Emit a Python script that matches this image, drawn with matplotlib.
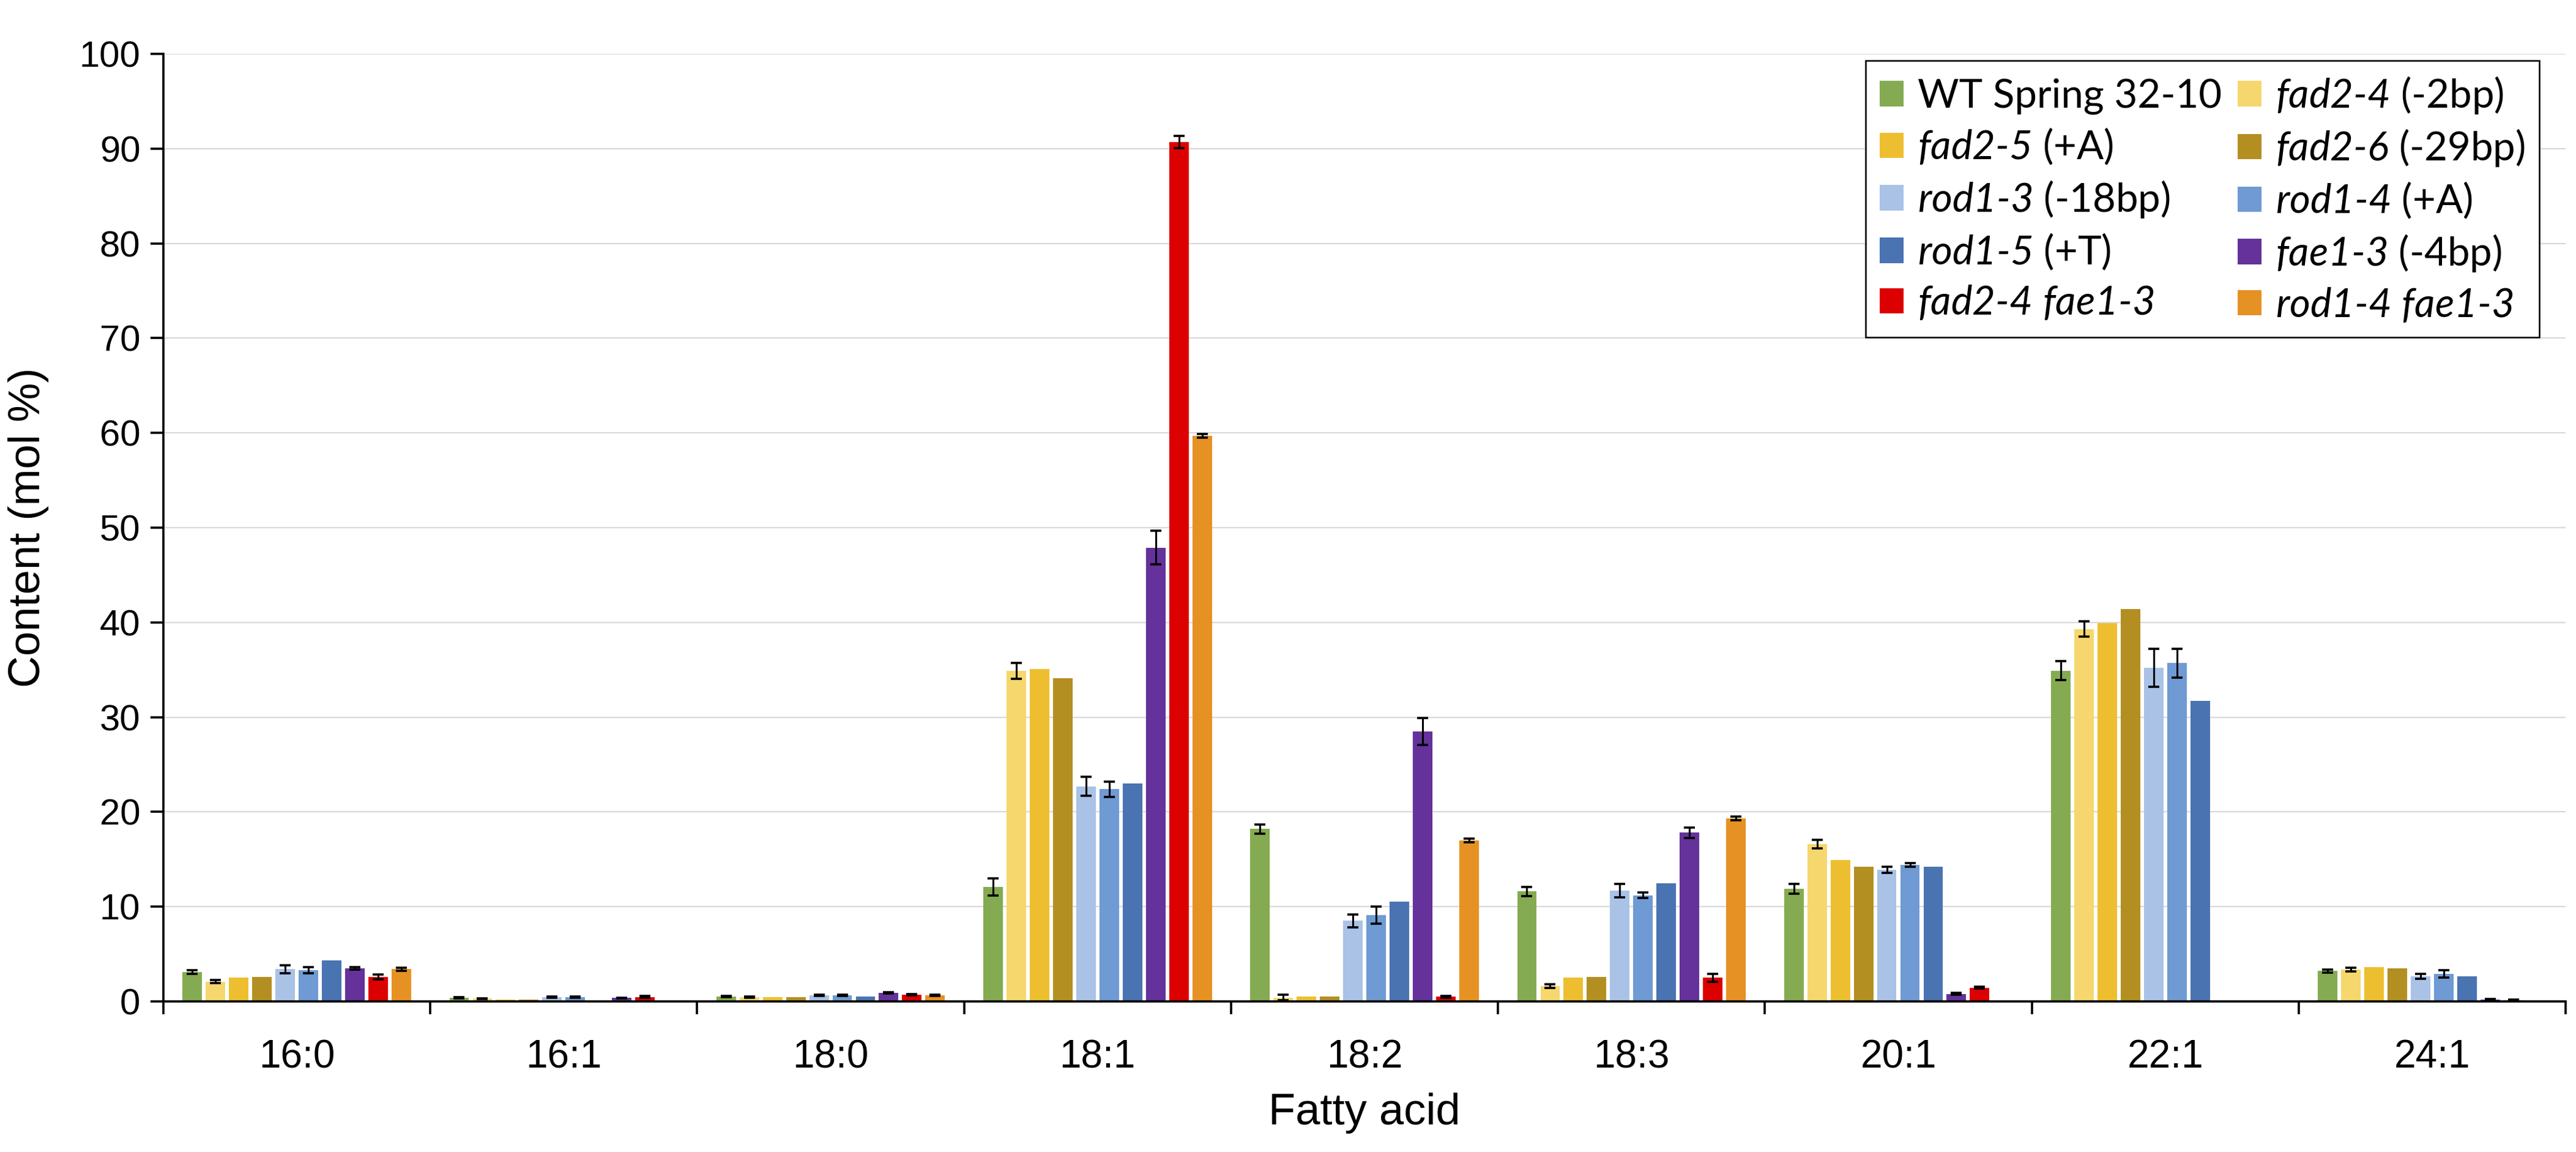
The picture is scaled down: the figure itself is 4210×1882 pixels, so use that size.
import numpy as np
import matplotlib
matplotlib.use("Agg")
import matplotlib.pyplot as plt

plt.rcParams['font.family'] = ['Liberation Sans', 'DejaVu Sans']
# mathtext is only used for the italic gene names, so both map to italic
plt.rcParams['mathtext.fontset'] = 'custom'
plt.rcParams['mathtext.rm'] = 'Lato:italic'
plt.rcParams['mathtext.it'] = 'Lato:italic'

fatty_acids = ["16:0", "16:1", "18:0", "18:1", "18:2", "18:3", "20:1", "22:1", "24:1"]

# mean content (mol %) per line, one value per fatty acid
wt = [3.1, 0.4, 0.52, 12.1, 18.2, 11.6, 11.9, 34.9, 3.2]
fad2_4 = [2.1, 0.3, 0.47, 34.9, 0.4, 1.6, 16.6, 39.3, 3.35]
fad2_5 = [2.5, 0.18, 0.45, 35.1, 0.5, 2.5, 14.9, 39.9, 3.65]
fad2_6 = [2.6, 0.18, 0.45, 34.1, 0.55, 2.6, 14.2, 41.4, 3.5]
rod1_3 = [3.4, 0.47, 0.63, 22.7, 8.5, 11.7, 13.9, 35.2, 2.65]
rod1_4 = [3.3, 0.47, 0.63, 22.4, 9.1, 11.2, 14.4, 35.7, 2.9]
rod1_5 = [4.3, 0.0, 0.52, 23.0, 10.5, 12.5, 14.2, 31.7, 2.65]
fae1_3 = [3.5, 0.36, 0.9, 47.9, 28.5, 17.8, 0.8, 0.0, 0.2]
fad2_4_fae1_3 = [2.6, 0.47, 0.72, 90.7, 0.5, 2.5, 1.45, 0.0, 0.15]
rod1_4_fae1_3 = [3.4, 0.0, 0.63, 59.7, 17.0, 19.3, 0.0, 0.0, 0.0]

# standard deviation (nan = no error bar drawn)
nan = np.nan
wt_sd = [0.2, 0.05, 0.05, 0.9, 0.5, 0.5, 0.5, 1.0, 0.15]
fad2_4_sd = [0.15, 0.05, 0.05, 0.85, 0.3, 0.2, 0.45, 0.8, 0.2]
fad2_5_sd = [nan] * 9
fad2_6_sd = [nan] * 9
rod1_3_sd = [0.4, 0.05, 0.05, 1.0, 0.65, 0.7, 0.3, 2.0, 0.25]
rod1_4_sd = [0.35, 0.05, 0.05, 0.8, 0.9, 0.3, 0.2, 1.5, 0.4]
rod1_5_sd = [nan] * 9
fae1_3_sd = [0.15, 0.05, 0.05, 1.8, 1.4, 0.55, 0.1, nan, 0.05]
fad2_4_fae1_3_sd = [0.25, 0.1, 0.05, 0.65, 0.1, 0.4, 0.1, nan, 0.05]
rod1_4_fae1_3_sd = [0.15, nan, 0.05, 0.2, 0.2, 0.2, nan, nan, nan]

labels = [
    "WT Spring 32-10",
    r"$fad2\text{-}4$ (-2bp)",
    r"$fad2\text{-}5$ (+A)",
    r"$fad2\text{-}6$ (-29bp)",
    r"$rod1\text{-}3$ (-18bp)",
    r"$rod1\text{-}4$ (+A)",
    r"$rod1\text{-}5$ (+T)",
    r"$fae1\text{-}3$ (-4bp)",
    r"$fad2\text{-}4$ $fae1\text{-}3$",
    r"$rod1\text{-}4$ $fae1\text{-}3$",
]
colors = ["#84AB51", "#F5D76E", "#EDBF30", "#B38F22", "#A9C2E6",
          "#6F9AD3", "#4A73B2", "#64329A", "#DC0000", "#E69123"]

means = [wt, fad2_4, fad2_5, fad2_6, rod1_3, rod1_4, rod1_5,
         fae1_3, fad2_4_fae1_3, rod1_4_fae1_3]
sds = [wt_sd, fad2_4_sd, fad2_5_sd, fad2_6_sd, rod1_3_sd, rod1_4_sd,
       rod1_5_sd, fae1_3_sd, fad2_4_fae1_3_sd, rod1_4_fae1_3_sd]


def main():
    fig = plt.figure(figsize=(21.05, 9.41), dpi=200)
    ax = fig.add_axes([0.0634, 0.1307, 0.9326, 0.8225])

    x = np.arange(len(fatty_acids))
    n = len(means)
    slot = 0.087
    width = slot * 0.84
    handles = []
    for i in range(n):
        pos = x + (i - (n - 1) / 2) * slot
        b = ax.bar(pos, means[i], width, color=colors[i], label=labels[i], zorder=2)
        handles.append(b)
        err = np.array(sds[i], dtype=float)
        ok = ~np.isnan(err)
        if ok.any():
            ax.errorbar(pos[ok], np.array(means[i])[ok], yerr=err[ok], fmt="none",
                        ecolor="black", elinewidth=1.1, capsize=3.4, capthick=1.3,
                        zorder=3)

    ax.set_xlim(-0.5, len(fatty_acids) - 0.5)
    ax.set_ylim(0, 100)
    ax.set_yticks(np.arange(0, 101, 10))
    ax.set_xticks(x)
    ax.set_xticklabels(fatty_acids)
    ax.set_xticks(np.arange(-0.5, len(fatty_acids)), minor=True)
    ax.tick_params(axis="x", which="major", length=0, labelsize=23, pad=22)
    ax.tick_params(axis="x", which="minor", length=7.5, width=1.3, direction="out")
    ax.tick_params(axis="y", length=7.5, width=1.3, labelsize=21.5, pad=6)
    ax.yaxis.grid(True, color="#d9d9d9", linewidth=0.8, zorder=0)
    ax.set_axisbelow(True)

    for s in ["top", "right"]:
        ax.spines[s].set_visible(False)
    for s in ["left", "bottom"]:
        ax.spines[s].set_linewidth(1.3)

    ax.set_xlabel("Fatty acid", fontsize=26, labelpad=10)
    ax.set_ylabel("Content (mol %)", fontsize=26, labelpad=18)

    order = [0, 2, 4, 6, 8, 1, 3, 5, 7, 9]
    leg = fig.legend([handles[k] for k in order], [labels[k] for k in order],
                     ncol=2, loc="upper left", bbox_to_anchor=(0.7242, 0.9474),
                     bbox_transform=fig.transFigure, borderaxespad=0,
                     prop={"family": ["Lato", "DejaVu Sans"], "size": 23.5},
                     handlelength=0.6, handleheight=0.6, handletextpad=0.35,
                     columnspacing=0.4, labelspacing=0.3, borderpad=0.35,
                     fancybox=False, framealpha=1, edgecolor="black")
    leg.get_frame().set_linewidth(0.9)

    fig.savefig("out.png", dpi=200)


if __name__ == "__main__":
    main()
